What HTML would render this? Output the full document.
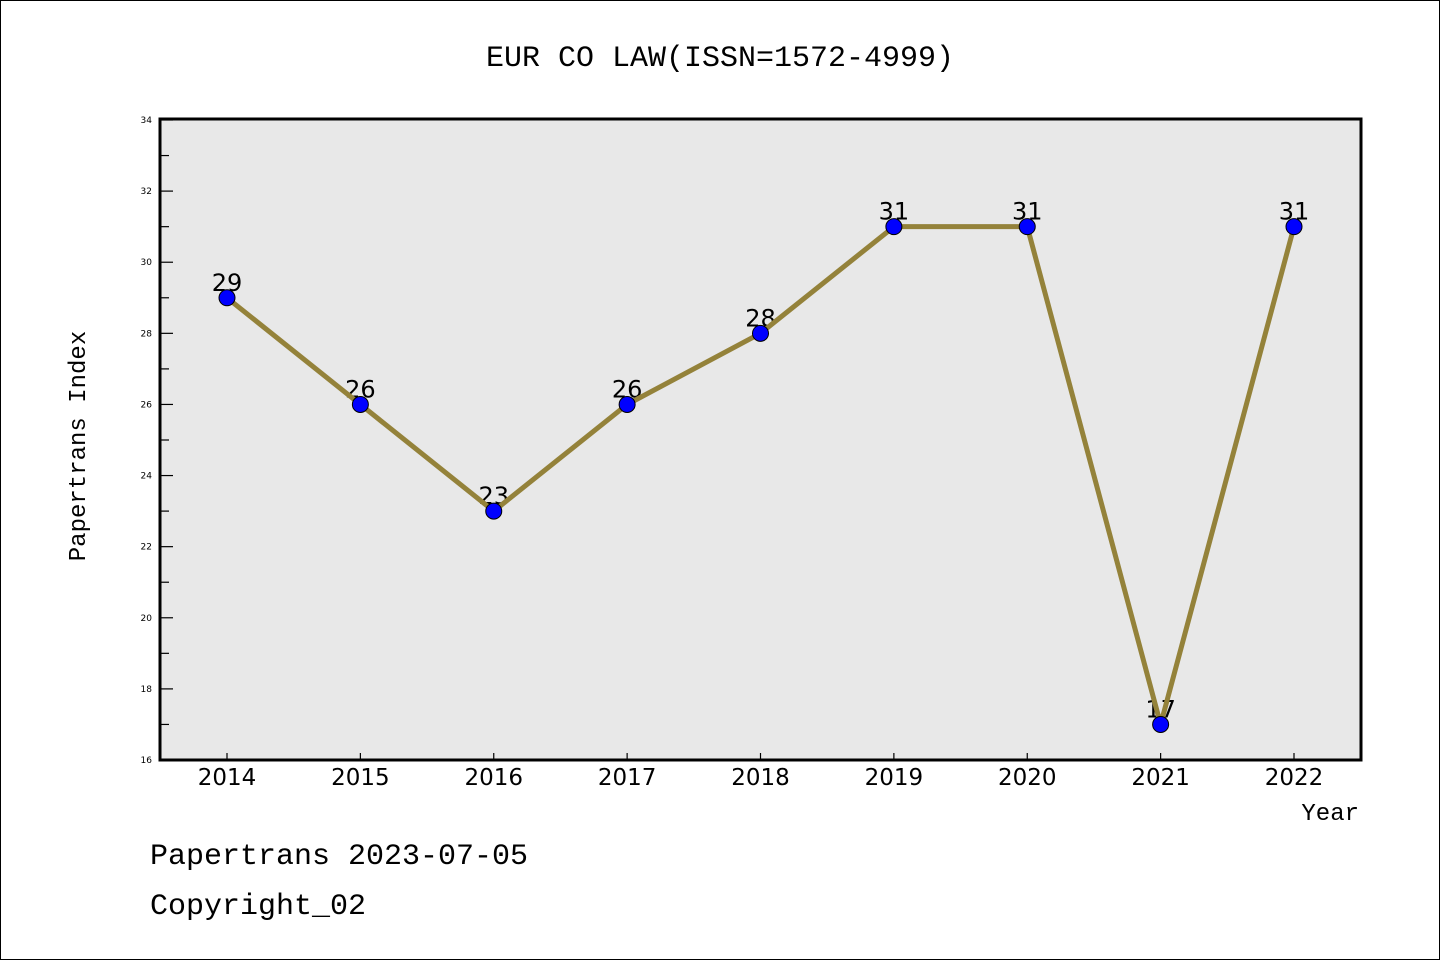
<!DOCTYPE html>
<html><head><meta charset="utf-8"><style>
html,body{margin:0;padding:0;background:#fff}
svg{display:block}
</style></head><body>
<svg id="c" width="1440" height="960" xmlns="http://www.w3.org/2000/svg">
<rect x="0.5" y="0.5" width="1439" height="959" fill="#fff" stroke="#000"/>
<text x="720" y="66" text-anchor="middle" font-family="Liberation Mono, monospace" font-size="30">EUR CO LAW(ISSN=1572-4999)</text>
<rect x="160" y="119" width="1201" height="641" fill="#e8e8e8"/>
<g id="ticks"></g>
<g id="labels"></g>
<g id="line"></g>
<g id="marks"></g>
<rect x="160" y="119" width="1201" height="641" fill="none" stroke="#000" stroke-width="3"/>
<text x="85" y="446" transform="rotate(-90 85 446)" text-anchor="middle" font-family="Liberation Mono, monospace" font-size="24">Papertrans Index</text>
<text x="1359" y="820" text-anchor="end" font-family="Liberation Mono, monospace" font-size="24">Year</text>
<text x="150" y="864" font-family="Liberation Mono, monospace" font-size="30">Papertrans 2023-07-05</text>
<text x="150" y="914" font-family="Liberation Mono, monospace" font-size="30">Copyright_02</text>
</svg>
<script>
const years=[2014,2015,2016,2017,2018,2019,2020,2021,2022];
const values=[29,26,23,26,28,31,31,17,31];
const yTicks=[16,18,20,22,24,26,28,30,32,34];
const NS="http://www.w3.org/2000/svg";
const xS=i=>227+i*(1294-227)/(years.length-1);
const yS=v=>760-(v-16)*(640/18);
function mk(t,a,p){const e=document.createElementNS(NS,t);for(const k in a)e.setAttribute(k,a[k]);p.appendChild(e);return e;}
const T=document.getElementById('ticks'),L=document.getElementById('labels'),Ln=document.getElementById('line'),M=document.getElementById('marks');
yTicks.forEach(v=>{
 const y=yS(v);
 const t=mk('line',{x1:160,x2:173,y1:y,y2:y,stroke:'#000','stroke-width':1.2},T);
 
 
 const l=mk('text',{x:152,y:y+3,'text-anchor':'end','font-family':'DejaVu Sans, sans-serif','font-size':9},T);
 l.textContent=v;
 
 
 if(v<34){const ym=yS(v+1);
  const m=mk('line',{x1:160,x2:169,y1:ym,y2:ym,stroke:'#000','stroke-width':1.2},T);
  
  }
});
years.forEach((yr,i)=>{
 const x=xS(i);
 const t=mk('line',{x1:x,x2:x,y1:760,y2:753,stroke:'#000','stroke-width':1.2},T);
 
 
 const l=mk('text',{x:x,y:785,'text-anchor':'middle','font-family':'DejaVu Sans, sans-serif','font-size':23},T);
 l.textContent=yr;
 
 
 const v=mk('text',{x:x,y:yS(values[i])-7,'text-anchor':'middle','font-family':'DejaVu Sans, sans-serif','font-size':24},L);
 v.textContent=values[i];
 
 
});
const pl=mk('polyline',{points:values.map((v,i)=>xS(i)+','+yS(v)).join(' '),fill:'none',stroke:'#94823a','stroke-width':5,'stroke-linejoin':'round'},Ln);


values.forEach((v,i)=>{
 const c=mk('circle',{cx:xS(i),cy:yS(v),r:8,fill:'#0000ff',stroke:'#000','stroke-width':1},M);
 
 
});
</script>
</body></html>
